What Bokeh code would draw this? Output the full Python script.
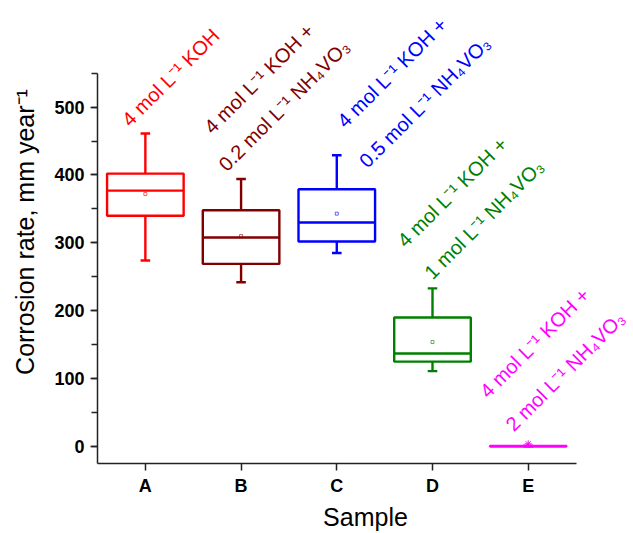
import math
from bokeh.plotting import figure
from bokeh.models import ColumnDataSource, FixedTicker, SingleIntervalTicker, Range1d
from bokeh.core.properties import value
from bokeh.embed import file_html
from bokeh.resources import INLINE

# ---- data ----
samples = ["A", "B", "C", "D", "E"]
positions = [1, 2, 3, 4, 5]
whisker_low = [274, 242, 285, 111, 0]
q1 = [340, 269, 302, 125, 0.2]
median = [377, 308, 330, 137, 0.5]
q3 = [402, 348, 379, 190, 0.9]
whisker_high = [461, 394, 429, 233, 1.2]
means = [372, 310, 343, 154, 4]
colors = ["#FF0000", "#800000", "#0000FF", "#008000", "#FF00FF"]

label_lines = [
    ["4 mol L\u207b\u00b9 KOH"],
    ["4 mol L\u207b\u00b9 KOH +", "0.2 mol L\u207b\u00b9 NH\u2084VO\u2083"],
    ["4 mol L\u207b\u00b9 KOH +", "0.5 mol L\u207b\u00b9 NH\u2084VO\u2083"],
    ["4 mol L\u207b\u00b9 KOH +", "1 mol L\u207b\u00b9 NH\u2084VO\u2083"],
    ["4 mol L\u207b\u00b9 KOH +", "2 mol L\u207b\u00b9 NH\u2084VO\u2083"],
]
label_x = [[0.79], [1.65, 1.80], [3.04, 3.27], [3.67, 3.95], [4.53, 4.80]]
label_y = [[477], [466, 411], [475, 416], [299, 252], [77, 28]]

box_width = 0.8
cap_width = 0.1

p = figure(width=633, height=533, output_backend="svg", toolbar_location=None,
           x_range=Range1d(0.5, 6.10), y_range=Range1d(-25, 657),
           min_border_left=97, min_border_right=0, min_border_top=0, min_border_bottom=70)
p.outline_line_color = None
p.xgrid.visible = False
p.ygrid.visible = False
p.background_fill_color = "white"

src = ColumnDataSource(dict(
    x=positions, lo=whisker_low, q1=q1, med=median, q3=q3, hi=whisker_high,
    mean=means, color=colors,
    xl=[v - box_width / 2 for v in positions], xr=[v + box_width / 2 for v in positions],
    cl=[v - cap_width / 2 for v in positions], cr=[v + cap_width / 2 for v in positions],
))

lw = 2.4
# whiskers
p.segment(x0="x", y0="q3", x1="x", y1="hi", line_color="color", line_width=lw, source=src)
p.segment(x0="x", y0="lo", x1="x", y1="q1", line_color="color", line_width=lw, source=src)
p.segment(x0="cl", y0="hi", x1="cr", y1="hi", line_color="color", line_width=lw, source=src)
p.segment(x0="cl", y0="lo", x1="cr", y1="lo", line_color="color", line_width=lw, source=src)
# boxes
p.quad(left="xl", right="xr", bottom="q1", top="q3", fill_color=None,
       line_color="color", line_width=lw, source=src)
# medians
p.segment(x0="xl", y0="med", x1="xr", y1="med", line_color="color", line_width=lw, source=src)
# means
p.scatter(x=positions[:4], y=means[:4], marker="square", size=3,
          fill_color=None, line_color=colors[:4], line_width=1, alpha=0.6)
p.scatter(x=positions[4:], y=means[4:], marker="asterisk", size=7,
          line_color=colors[4], line_width=1)

# labels
for lines, xs, ys, c in zip(label_lines, label_x, label_y, colors):
    p.text(x=xs, y=ys, text=lines, angle=math.pi / 4, text_color=c,
           text_font=value("Liberation Sans"), text_font_size="20px",
           text_align="left", text_baseline="alphabetic")

# axes
p.xaxis.ticker = FixedTicker(ticks=positions)
p.xaxis.major_label_overrides = {pos: s for pos, s in zip(positions, samples)}
p.xaxis.minor_tick_line_color = None
p.yaxis.ticker = SingleIntervalTicker(interval=100, num_minor_ticks=2)
p.xaxis.bounds = (0.5, 5.5)
p.yaxis.bounds = (-25, 550)

for ax in (p.xaxis[0], p.yaxis[0]):
    ax.axis_line_color = "#222222"
    ax.axis_line_width = 1.5
    ax.major_tick_line_color = "#222222"
    ax.major_tick_line_width = 1.5
    ax.major_tick_in = 0
    ax.major_tick_out = 7
    ax.major_label_text_font = "Liberation Sans"
    ax.major_label_text_font_style = "bold"
    ax.major_label_text_font_size = "18px"
    ax.major_label_text_color = "black"
    ax.axis_label_text_font = "Liberation Sans"
    ax.axis_label_text_font_style = "normal"
    ax.axis_label_text_font_size = "25px"
    ax.axis_label_text_color = "black"

p.yaxis.minor_tick_line_color = "#222222"
p.yaxis.minor_tick_line_width = 1.5
p.yaxis.minor_tick_in = 0
p.yaxis.minor_tick_out = 6
p.yaxis.major_label_standoff = 6
p.xaxis.major_label_standoff = 5
p.yaxis.axis_label = "Corrosion rate, mm year\u207b\u00b9"
p.xaxis.axis_label = "Sample"
p.yaxis.axis_label_standoff = 12
p.xaxis.axis_label_standoff = 4

open("out.html", "w").write(file_html(p, INLINE))
